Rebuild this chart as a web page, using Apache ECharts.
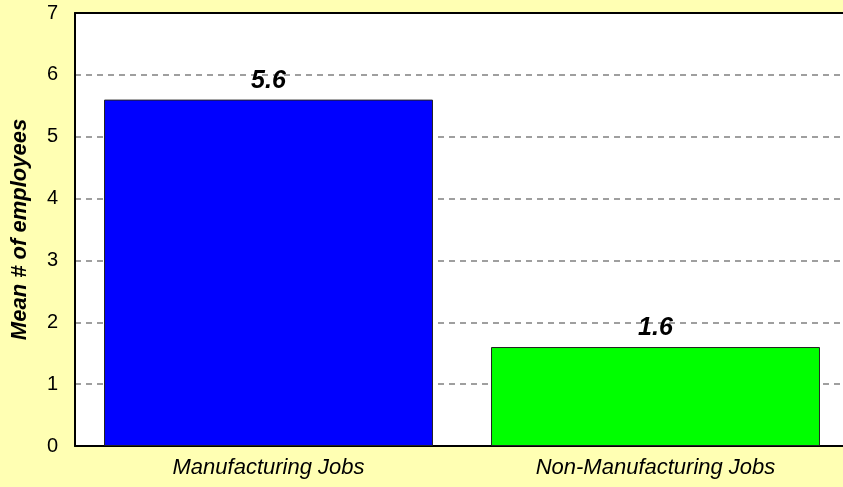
<!DOCTYPE html>
<html>
<head>
<meta charset="utf-8">
<script src="https://cdn.jsdelivr.net/npm/echarts@6/dist/echarts.min.js"></script>
<style>
  html, body { margin: 0; padding: 0; background: #FFFFB3; overflow: hidden; }
  /* the plot runs slightly past the right edge of the window */
  #chart { width: 849px; height: 487px; }
</style>
</head>
<body>
<div id="chart"></div>
<script>
// Mean number of employees by job type
const categories = ['Manufacturing Jobs', 'Non-Manufacturing Jobs'];
const meanEmployees = [5.6, 1.6];
const barColors = ['#0000FF', '#00FF00'];
const yTicks = { min: 0, max: 7, interval: 1 };

const chart = echarts.init(document.getElementById('chart'), null, { renderer: 'canvas' });

const fontFamily = 'Liberation Sans, Arial, sans-serif';

chart.setOption({
  backgroundColor: '#FFFFB3',
  animation: false,
  grid: {
    left: 75, top: 13, right: 0, bottom: 41,
    show: true,
    backgroundColor: '#FFFFFF',
    borderWidth: 0
  },
  xAxis: [{
    type: 'category',
    data: categories,
    axisLine: { show: true, lineStyle: { color: '#000000', width: 2 } },
    axisTick: { show: false },
    axisLabel: {
      color: '#000000',
      fontFamily: fontFamily,
      fontStyle: 'italic',
      fontSize: 22,
      margin: 11
    }
  }, {
    // plain top edge of the plot frame
    type: 'category',
    position: 'top',
    data: categories,
    axisLine: { show: true, lineStyle: { color: '#000000', width: 2 } },
    axisTick: { show: false },
    axisLabel: { show: false },
    splitLine: { show: false }
  }],
  yAxis: {
    type: 'value',
    min: yTicks.min,
    max: yTicks.max,
    interval: yTicks.interval,
    name: 'Mean # of employees',
    nameLocation: 'middle',
    nameGap: 44,
    nameTextStyle: {
      color: '#000000',
      fontFamily: fontFamily,
      fontStyle: 'italic',
      fontWeight: 'bold',
      fontSize: 22
    },
    axisLine: { show: true, lineStyle: { color: '#000000', width: 2 } },
    axisTick: { show: false },
    axisLabel: {
      color: '#000000',
      fontFamily: fontFamily,
      fontSize: 20,
      margin: 17
    },
    splitLine: {
      show: true,
      lineStyle: { color: '#808080', type: [6, 5], width: 1.5 }
    }
  },
  series: [{
    type: 'bar',
    barWidth: '85%',
    data: meanEmployees.map((v, i) => ({
      value: v,
      itemStyle: { color: barColors[i] }
    })),
    itemStyle: { borderColor: '#222222', borderWidth: 1 },
    label: {
      show: true,
      position: 'top',
      distance: 6,
      color: '#000000',
      fontFamily: fontFamily,
      fontStyle: 'italic',
      fontWeight: 'bold',
      fontSize: 25,
      formatter: p => p.value.toFixed(1)
    }
  }]
});
</script>
</body>
</html>
